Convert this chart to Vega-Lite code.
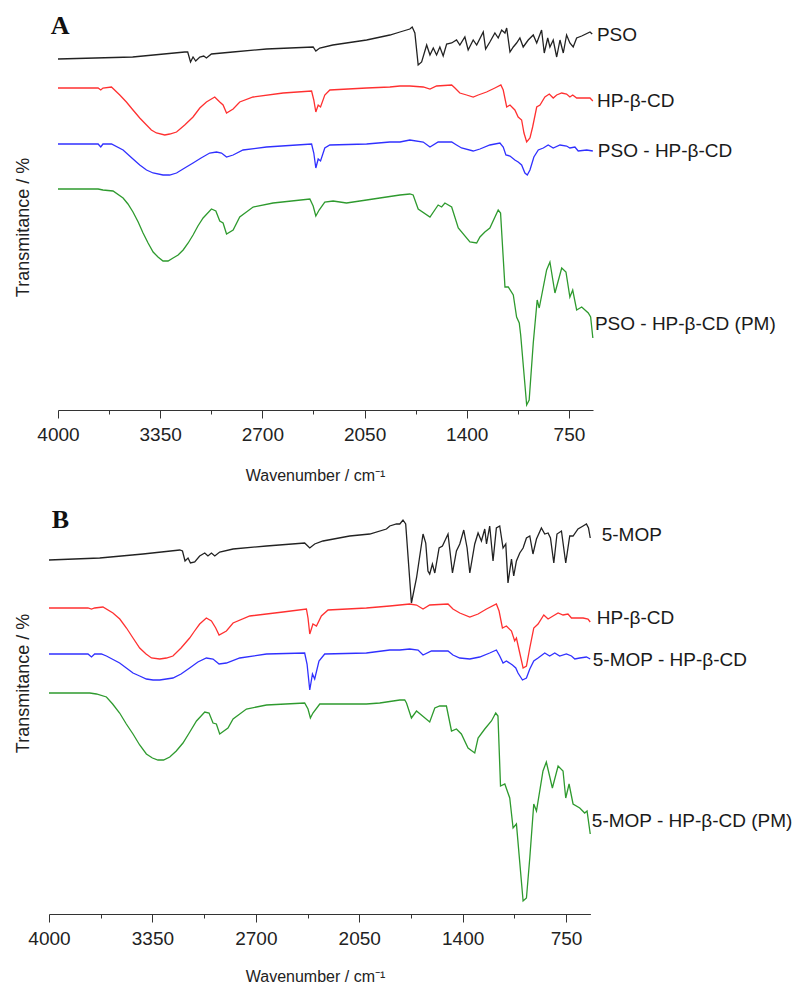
{
  "$schema": "https://vega.github.io/schema/vega-lite/v6.json",
  "padding": {"left": 14, "top": 13, "right": 0, "bottom": 0},
  "spacing": 23,
  "config": {
    "view": {"stroke": null},
    "font": "Liberation Sans",
    "axis": {"labelFont": "Liberation Sans", "titleFont": "Liberation Sans", "labelColor": "#222", "titleColor": "#222", "titleFontWeight": "normal", "grid": false}
  },
  "datasets": {
    "a": [
      {"s":"PSO","wn":4000,"t":351},{"s":"PSO","wn":3525,"t":353},{"s":"PSO","wn":3194,"t":358},{"s":"PSO","wn":3175,"t":358},{"s":"PSO","wn":3157,"t":348},{"s":"PSO","wn":3141,"t":353},{"s":"PSO","wn":3124,"t":349},{"s":"PSO","wn":3098,"t":353},{"s":"PSO","wn":3073,"t":354},{"s":"PSO","wn":3056,"t":352},{"s":"PSO","wn":3024,"t":356},{"s":"PSO","wn":2888,"t":358},{"s":"PSO","wn":2674,"t":361},{"s":"PSO","wn":2377,"t":363},{"s":"PSO","wn":2360,"t":359},{"s":"PSO","wn":2335,"t":362},{"s":"PSO","wn":2252,"t":365},{"s":"PSO","wn":2037,"t":370},{"s":"PSO","wn":1889,"t":375},{"s":"PSO","wn":1825,"t":378},{"s":"PSO","wn":1762,"t":381},{"s":"PSO","wn":1747,"t":383},{"s":"PSO","wn":1730,"t":377},{"s":"PSO","wn":1709,"t":345},{"s":"PSO","wn":1687,"t":348},{"s":"PSO","wn":1655,"t":365},{"s":"PSO","wn":1634,"t":355},{"s":"PSO","wn":1613,"t":362},{"s":"PSO","wn":1592,"t":355},{"s":"PSO","wn":1571,"t":363},{"s":"PSO","wn":1550,"t":354},{"s":"PSO","wn":1528,"t":366},{"s":"PSO","wn":1496,"t":367},{"s":"PSO","wn":1465,"t":370},{"s":"PSO","wn":1444,"t":365},{"s":"PSO","wn":1412,"t":373},{"s":"PSO","wn":1391,"t":360},{"s":"PSO","wn":1359,"t":370},{"s":"PSO","wn":1337,"t":365},{"s":"PSO","wn":1295,"t":378},{"s":"PSO","wn":1280,"t":361},{"s":"PSO","wn":1253,"t":368},{"s":"PSO","wn":1221,"t":377},{"s":"PSO","wn":1200,"t":372},{"s":"PSO","wn":1178,"t":380},{"s":"PSO","wn":1157,"t":377},{"s":"PSO","wn":1146,"t":382},{"s":"PSO","wn":1125,"t":358},{"s":"PSO","wn":1104,"t":363},{"s":"PSO","wn":1083,"t":367},{"s":"PSO","wn":1062,"t":372},{"s":"PSO","wn":1041,"t":363},{"s":"PSO","wn":1009,"t":370},{"s":"PSO","wn":977,"t":375},{"s":"PSO","wn":955,"t":367},{"s":"PSO","wn":924,"t":380},{"s":"PSO","wn":907,"t":357},{"s":"PSO","wn":885,"t":372},{"s":"PSO","wn":871,"t":363},{"s":"PSO","wn":850,"t":370},{"s":"PSO","wn":828,"t":353},{"s":"PSO","wn":807,"t":370},{"s":"PSO","wn":786,"t":357},{"s":"PSO","wn":765,"t":375},{"s":"PSO","wn":744,"t":367},{"s":"PSO","wn":723,"t":363},{"s":"PSO","wn":701,"t":372},{"s":"PSO","wn":669,"t":374},{"s":"PSO","wn":616,"t":378},{"s":"PSO","wn":602,"t":376},

      {"s":"HP-β-CD","wn":4000,"t":322},{"s":"HP-β-CD","wn":3745,"t":322},{"s":"HP-β-CD","wn":3728,"t":320},{"s":"HP-β-CD","wn":3714,"t":322},{"s":"HP-β-CD","wn":3660,"t":323},{"s":"HP-β-CD","wn":3607,"t":315},{"s":"HP-β-CD","wn":3565,"t":308},{"s":"HP-β-CD","wn":3523,"t":300},{"s":"HP-β-CD","wn":3480,"t":292},{"s":"HP-β-CD","wn":3437,"t":285},{"s":"HP-β-CD","wn":3406,"t":280},{"s":"HP-β-CD","wn":3374,"t":277},{"s":"HP-β-CD","wn":3321,"t":275},{"s":"HP-β-CD","wn":3289,"t":276},{"s":"HP-β-CD","wn":3246,"t":278},{"s":"HP-β-CD","wn":3194,"t":285},{"s":"HP-β-CD","wn":3141,"t":293},{"s":"HP-β-CD","wn":3098,"t":302},{"s":"HP-β-CD","wn":3056,"t":308},{"s":"HP-β-CD","wn":3003,"t":313},{"s":"HP-β-CD","wn":2971,"t":308},{"s":"HP-β-CD","wn":2950,"t":305},{"s":"HP-β-CD","wn":2928,"t":297},{"s":"HP-β-CD","wn":2886,"t":301},{"s":"HP-β-CD","wn":2844,"t":308},{"s":"HP-β-CD","wn":2759,"t":313},{"s":"HP-β-CD","wn":2568,"t":317},{"s":"HP-β-CD","wn":2387,"t":319},{"s":"HP-β-CD","wn":2373,"t":310},{"s":"HP-β-CD","wn":2360,"t":298},{"s":"HP-β-CD","wn":2345,"t":305},{"s":"HP-β-CD","wn":2330,"t":303},{"s":"HP-β-CD","wn":2303,"t":315},{"s":"HP-β-CD","wn":2271,"t":320},{"s":"HP-β-CD","wn":2037,"t":322},{"s":"HP-β-CD","wn":1889,"t":323},{"s":"HP-β-CD","wn":1825,"t":324},{"s":"HP-β-CD","wn":1762,"t":324},{"s":"HP-β-CD","wn":1677,"t":323},{"s":"HP-β-CD","wn":1634,"t":321},{"s":"HP-β-CD","wn":1592,"t":324},{"s":"HP-β-CD","wn":1496,"t":325},{"s":"HP-β-CD","wn":1475,"t":322},{"s":"HP-β-CD","wn":1444,"t":317},{"s":"HP-β-CD","wn":1401,"t":315},{"s":"HP-β-CD","wn":1359,"t":313},{"s":"HP-β-CD","wn":1327,"t":315},{"s":"HP-β-CD","wn":1274,"t":318},{"s":"HP-β-CD","wn":1221,"t":322},{"s":"HP-β-CD","wn":1183,"t":325},{"s":"HP-β-CD","wn":1168,"t":320},{"s":"HP-β-CD","wn":1146,"t":303},{"s":"HP-β-CD","wn":1125,"t":305},{"s":"HP-β-CD","wn":1094,"t":300},{"s":"HP-β-CD","wn":1073,"t":293},{"s":"HP-β-CD","wn":1051,"t":290},{"s":"HP-β-CD","wn":1036,"t":277},{"s":"HP-β-CD","wn":1019,"t":268},{"s":"HP-β-CD","wn":998,"t":272},{"s":"HP-β-CD","wn":981,"t":283},{"s":"HP-β-CD","wn":955,"t":303},{"s":"HP-β-CD","wn":934,"t":305},{"s":"HP-β-CD","wn":903,"t":313},{"s":"HP-β-CD","wn":875,"t":316},{"s":"HP-β-CD","wn":850,"t":312},{"s":"HP-β-CD","wn":828,"t":315},{"s":"HP-β-CD","wn":796,"t":317},{"s":"HP-β-CD","wn":765,"t":316},{"s":"HP-β-CD","wn":744,"t":313},{"s":"HP-β-CD","wn":726,"t":315},{"s":"HP-β-CD","wn":701,"t":312},{"s":"HP-β-CD","wn":659,"t":312},{"s":"HP-β-CD","wn":616,"t":312},{"s":"HP-β-CD","wn":598,"t":309},

      {"s":"PSO - HP-β-CD","wn":4000,"t":266},{"s":"PSO - HP-β-CD","wn":3745,"t":266},{"s":"PSO - HP-β-CD","wn":3728,"t":263},{"s":"PSO - HP-β-CD","wn":3714,"t":266},{"s":"PSO - HP-β-CD","wn":3660,"t":266},{"s":"PSO - HP-β-CD","wn":3586,"t":260},{"s":"PSO - HP-β-CD","wn":3530,"t":252},{"s":"PSO - HP-β-CD","wn":3480,"t":245},{"s":"PSO - HP-β-CD","wn":3437,"t":240},{"s":"PSO - HP-β-CD","wn":3395,"t":237},{"s":"PSO - HP-β-CD","wn":3332,"t":235},{"s":"PSO - HP-β-CD","wn":3290,"t":235},{"s":"PSO - HP-β-CD","wn":3246,"t":237},{"s":"PSO - HP-β-CD","wn":3194,"t":242},{"s":"PSO - HP-β-CD","wn":3141,"t":247},{"s":"PSO - HP-β-CD","wn":3090,"t":252},{"s":"PSO - HP-β-CD","wn":3035,"t":257},{"s":"PSO - HP-β-CD","wn":2992,"t":258},{"s":"PSO - HP-β-CD","wn":2960,"t":257},{"s":"PSO - HP-β-CD","wn":2928,"t":253},{"s":"PSO - HP-β-CD","wn":2886,"t":255},{"s":"PSO - HP-β-CD","wn":2823,"t":260},{"s":"PSO - HP-β-CD","wn":2674,"t":263},{"s":"PSO - HP-β-CD","wn":2387,"t":266},{"s":"PSO - HP-β-CD","wn":2373,"t":257},{"s":"PSO - HP-β-CD","wn":2360,"t":242},{"s":"PSO - HP-β-CD","wn":2345,"t":251},{"s":"PSO - HP-β-CD","wn":2330,"t":249},{"s":"PSO - HP-β-CD","wn":2303,"t":262},{"s":"PSO - HP-β-CD","wn":2271,"t":265},{"s":"PSO - HP-β-CD","wn":2037,"t":266},{"s":"PSO - HP-β-CD","wn":1889,"t":268},{"s":"PSO - HP-β-CD","wn":1825,"t":268},{"s":"PSO - HP-β-CD","wn":1762,"t":270},{"s":"PSO - HP-β-CD","wn":1677,"t":268},{"s":"PSO - HP-β-CD","wn":1634,"t":263},{"s":"PSO - HP-β-CD","wn":1582,"t":268},{"s":"PSO - HP-β-CD","wn":1496,"t":268},{"s":"PSO - HP-β-CD","wn":1465,"t":265},{"s":"PSO - HP-β-CD","wn":1433,"t":262},{"s":"PSO - HP-β-CD","wn":1359,"t":259},{"s":"PSO - HP-β-CD","wn":1316,"t":261},{"s":"PSO - HP-β-CD","wn":1253,"t":265},{"s":"PSO - HP-β-CD","wn":1189,"t":267},{"s":"PSO - HP-β-CD","wn":1168,"t":263},{"s":"PSO - HP-β-CD","wn":1151,"t":255},{"s":"PSO - HP-β-CD","wn":1125,"t":254},{"s":"PSO - HP-β-CD","wn":1094,"t":250},{"s":"PSO - HP-β-CD","wn":1073,"t":248},{"s":"PSO - HP-β-CD","wn":1051,"t":245},{"s":"PSO - HP-β-CD","wn":1030,"t":237},{"s":"PSO - HP-β-CD","wn":1015,"t":235},{"s":"PSO - HP-β-CD","wn":998,"t":240},{"s":"PSO - HP-β-CD","wn":973,"t":253},{"s":"PSO - HP-β-CD","wn":945,"t":260},{"s":"PSO - HP-β-CD","wn":913,"t":262},{"s":"PSO - HP-β-CD","wn":882,"t":265},{"s":"PSO - HP-β-CD","wn":850,"t":262},{"s":"PSO - HP-β-CD","wn":807,"t":265},{"s":"PSO - HP-β-CD","wn":765,"t":264},{"s":"PSO - HP-β-CD","wn":744,"t":262},{"s":"PSO - HP-β-CD","wn":712,"t":263},{"s":"PSO - HP-β-CD","wn":691,"t":259},{"s":"PSO - HP-β-CD","wn":637,"t":260},{"s":"PSO - HP-β-CD","wn":598,"t":259},

      {"s":"PSO - HP-β-CD (PM)","wn":4000,"t":221},{"s":"PSO - HP-β-CD (PM)","wn":3745,"t":221},{"s":"PSO - HP-β-CD (PM)","wn":3714,"t":220},{"s":"PSO - HP-β-CD (PM)","wn":3650,"t":219},{"s":"PSO - HP-β-CD (PM)","wn":3586,"t":212},{"s":"PSO - HP-β-CD (PM)","wn":3555,"t":206},{"s":"PSO - HP-β-CD (PM)","wn":3523,"t":198},{"s":"PSO - HP-β-CD (PM)","wn":3490,"t":188},{"s":"PSO - HP-β-CD (PM)","wn":3459,"t":177},{"s":"PSO - HP-β-CD (PM)","wn":3427,"t":167},{"s":"PSO - HP-β-CD (PM)","wn":3395,"t":158},{"s":"PSO - HP-β-CD (PM)","wn":3364,"t":153},{"s":"PSO - HP-β-CD (PM)","wn":3332,"t":149},{"s":"PSO - HP-β-CD (PM)","wn":3300,"t":149},{"s":"PSO - HP-β-CD (PM)","wn":3268,"t":152},{"s":"PSO - HP-β-CD (PM)","wn":3236,"t":155},{"s":"PSO - HP-β-CD (PM)","wn":3204,"t":160},{"s":"PSO - HP-β-CD (PM)","wn":3172,"t":167},{"s":"PSO - HP-β-CD (PM)","wn":3141,"t":175},{"s":"PSO - HP-β-CD (PM)","wn":3110,"t":184},{"s":"PSO - HP-β-CD (PM)","wn":3077,"t":192},{"s":"PSO - HP-β-CD (PM)","wn":3024,"t":201},{"s":"PSO - HP-β-CD (PM)","wn":2996,"t":199},{"s":"PSO - HP-β-CD (PM)","wn":2971,"t":189},{"s":"PSO - HP-β-CD (PM)","wn":2950,"t":187},{"s":"PSO - HP-β-CD (PM)","wn":2928,"t":176},{"s":"PSO - HP-β-CD (PM)","wn":2886,"t":180},{"s":"PSO - HP-β-CD (PM)","wn":2844,"t":193},{"s":"PSO - HP-β-CD (PM)","wn":2759,"t":203},{"s":"PSO - HP-β-CD (PM)","wn":2632,"t":207},{"s":"PSO - HP-β-CD (PM)","wn":2398,"t":211},{"s":"PSO - HP-β-CD (PM)","wn":2377,"t":204},{"s":"PSO - HP-β-CD (PM)","wn":2360,"t":194},{"s":"PSO - HP-β-CD (PM)","wn":2339,"t":200},{"s":"PSO - HP-β-CD (PM)","wn":2303,"t":208},{"s":"PSO - HP-β-CD (PM)","wn":2250,"t":209},{"s":"PSO - HP-β-CD (PM)","wn":2165,"t":207},{"s":"PSO - HP-β-CD (PM)","wn":2037,"t":210},{"s":"PSO - HP-β-CD (PM)","wn":1953,"t":212},{"s":"PSO - HP-β-CD (PM)","wn":1825,"t":215},{"s":"PSO - HP-β-CD (PM)","wn":1762,"t":216},{"s":"PSO - HP-β-CD (PM)","wn":1741,"t":215},{"s":"PSO - HP-β-CD (PM)","wn":1709,"t":201},{"s":"PSO - HP-β-CD (PM)","wn":1634,"t":193},{"s":"PSO - HP-β-CD (PM)","wn":1582,"t":205},{"s":"PSO - HP-β-CD (PM)","wn":1560,"t":203},{"s":"PSO - HP-β-CD (PM)","wn":1539,"t":207},{"s":"PSO - HP-β-CD (PM)","wn":1496,"t":203},{"s":"PSO - HP-β-CD (PM)","wn":1454,"t":182},{"s":"PSO - HP-β-CD (PM)","wn":1380,"t":168},{"s":"PSO - HP-β-CD (PM)","wn":1337,"t":167},{"s":"PSO - HP-β-CD (PM)","wn":1316,"t":173},{"s":"PSO - HP-β-CD (PM)","wn":1285,"t":178},{"s":"PSO - HP-β-CD (PM)","wn":1253,"t":182},{"s":"PSO - HP-β-CD (PM)","wn":1200,"t":200},{"s":"PSO - HP-β-CD (PM)","wn":1185,"t":197},{"s":"PSO - HP-β-CD (PM)","wn":1157,"t":123},{"s":"PSO - HP-β-CD (PM)","wn":1136,"t":123},{"s":"PSO - HP-β-CD (PM)","wn":1104,"t":115},{"s":"PSO - HP-β-CD (PM)","wn":1083,"t":93},{"s":"PSO - HP-β-CD (PM)","wn":1066,"t":87},{"s":"PSO - HP-β-CD (PM)","wn":1057,"t":75},{"s":"PSO - HP-β-CD (PM)","wn":1019,"t":5},{"s":"PSO - HP-β-CD (PM)","wn":1003,"t":10},{"s":"PSO - HP-β-CD (PM)","wn":977,"t":67},{"s":"PSO - HP-β-CD (PM)","wn":952,"t":110},{"s":"PSO - HP-β-CD (PM)","wn":939,"t":102},{"s":"PSO - HP-β-CD (PM)","wn":892,"t":140},{"s":"PSO - HP-β-CD (PM)","wn":871,"t":148},{"s":"PSO - HP-β-CD (PM)","wn":839,"t":117},{"s":"PSO - HP-β-CD (PM)","wn":796,"t":142},{"s":"PSO - HP-β-CD (PM)","wn":769,"t":138},{"s":"PSO - HP-β-CD (PM)","wn":744,"t":113},{"s":"PSO - HP-β-CD (PM)","wn":726,"t":120},{"s":"PSO - HP-β-CD (PM)","wn":701,"t":100},{"s":"PSO - HP-β-CD (PM)","wn":669,"t":103},{"s":"PSO - HP-β-CD (PM)","wn":627,"t":97},{"s":"PSO - HP-β-CD (PM)","wn":612,"t":93},{"s":"PSO - HP-β-CD (PM)","wn":598,"t":72}
    ],
    "b": [
      {"s":"5-MOP","wn":4000,"t":354},{"s":"5-MOP","wn":3681,"t":356},{"s":"5-MOP","wn":3409,"t":360},{"s":"5-MOP","wn":3178,"t":364},{"s":"5-MOP","wn":3161,"t":363},{"s":"5-MOP","wn":3145,"t":353},{"s":"5-MOP","wn":3126,"t":356},{"s":"5-MOP","wn":3111,"t":351},{"s":"5-MOP","wn":3084,"t":352},{"s":"5-MOP","wn":3053,"t":358},{"s":"5-MOP","wn":3021,"t":361},{"s":"5-MOP","wn":3001,"t":358},{"s":"5-MOP","wn":2979,"t":361},{"s":"5-MOP","wn":2958,"t":358},{"s":"5-MOP","wn":2927,"t":362},{"s":"5-MOP","wn":2843,"t":365},{"s":"5-MOP","wn":2633,"t":368},{"s":"5-MOP","wn":2393,"t":371},{"s":"5-MOP","wn":2361,"t":366},{"s":"5-MOP","wn":2330,"t":370},{"s":"5-MOP","wn":2278,"t":373},{"s":"5-MOP","wn":2110,"t":378},{"s":"5-MOP","wn":1984,"t":380},{"s":"5-MOP","wn":1879,"t":385},{"s":"5-MOP","wn":1858,"t":388},{"s":"5-MOP","wn":1816,"t":390},{"s":"5-MOP","wn":1795,"t":390},{"s":"5-MOP","wn":1775,"t":394},{"s":"5-MOP","wn":1758,"t":390},{"s":"5-MOP","wn":1722,"t":311},{"s":"5-MOP","wn":1690,"t":336},{"s":"5-MOP","wn":1649,"t":380},{"s":"5-MOP","wn":1632,"t":371},{"s":"5-MOP","wn":1618,"t":343},{"s":"5-MOP","wn":1607,"t":340},{"s":"5-MOP","wn":1590,"t":350},{"s":"5-MOP","wn":1575,"t":341},{"s":"5-MOP","wn":1548,"t":366},{"s":"5-MOP","wn":1527,"t":368},{"s":"5-MOP","wn":1492,"t":380},{"s":"5-MOP","wn":1464,"t":341},{"s":"5-MOP","wn":1439,"t":363},{"s":"5-MOP","wn":1418,"t":370},{"s":"5-MOP","wn":1393,"t":384},{"s":"5-MOP","wn":1372,"t":366},{"s":"5-MOP","wn":1355,"t":341},{"s":"5-MOP","wn":1324,"t":370},{"s":"5-MOP","wn":1303,"t":381},{"s":"5-MOP","wn":1282,"t":373},{"s":"5-MOP","wn":1261,"t":385},{"s":"5-MOP","wn":1250,"t":370},{"s":"5-MOP","wn":1230,"t":388},{"s":"5-MOP","wn":1209,"t":353},{"s":"5-MOP","wn":1188,"t":386},{"s":"5-MOP","wn":1167,"t":388},{"s":"5-MOP","wn":1146,"t":366},{"s":"5-MOP","wn":1129,"t":370},{"s":"5-MOP","wn":1115,"t":331},{"s":"5-MOP","wn":1093,"t":355},{"s":"5-MOP","wn":1079,"t":338},{"s":"5-MOP","wn":1062,"t":353},{"s":"5-MOP","wn":1041,"t":361},{"s":"5-MOP","wn":1020,"t":366},{"s":"5-MOP","wn":999,"t":376},{"s":"5-MOP","wn":978,"t":378},{"s":"5-MOP","wn":958,"t":360},{"s":"5-MOP","wn":936,"t":375},{"s":"5-MOP","wn":905,"t":386},{"s":"5-MOP","wn":884,"t":380},{"s":"5-MOP","wn":863,"t":381},{"s":"5-MOP","wn":848,"t":376},{"s":"5-MOP","wn":827,"t":351},{"s":"5-MOP","wn":807,"t":380},{"s":"5-MOP","wn":779,"t":383},{"s":"5-MOP","wn":752,"t":351},{"s":"5-MOP","wn":727,"t":378},{"s":"5-MOP","wn":706,"t":378},{"s":"5-MOP","wn":675,"t":385},{"s":"5-MOP","wn":643,"t":388},{"s":"5-MOP","wn":622,"t":390},{"s":"5-MOP","wn":609,"t":386},{"s":"5-MOP","wn":598,"t":376},

      {"s":"HP-β-CD","wn":4000,"t":306},{"s":"HP-β-CD","wn":3755,"t":306},{"s":"HP-β-CD","wn":3733,"t":305},{"s":"HP-β-CD","wn":3713,"t":306},{"s":"HP-β-CD","wn":3661,"t":307},{"s":"HP-β-CD","wn":3598,"t":301},{"s":"HP-β-CD","wn":3555,"t":295},{"s":"HP-β-CD","wn":3513,"t":286},{"s":"HP-β-CD","wn":3472,"t":276},{"s":"HP-β-CD","wn":3430,"t":266},{"s":"HP-β-CD","wn":3390,"t":260},{"s":"HP-β-CD","wn":3356,"t":256},{"s":"HP-β-CD","wn":3304,"t":255},{"s":"HP-β-CD","wn":3262,"t":256},{"s":"HP-β-CD","wn":3221,"t":258},{"s":"HP-β-CD","wn":3170,"t":266},{"s":"HP-β-CD","wn":3116,"t":276},{"s":"HP-β-CD","wn":3085,"t":283},{"s":"HP-β-CD","wn":3053,"t":290},{"s":"HP-β-CD","wn":3011,"t":296},{"s":"HP-β-CD","wn":2979,"t":293},{"s":"HP-β-CD","wn":2952,"t":286},{"s":"HP-β-CD","wn":2931,"t":279},{"s":"HP-β-CD","wn":2885,"t":283},{"s":"HP-β-CD","wn":2843,"t":291},{"s":"HP-β-CD","wn":2738,"t":298},{"s":"HP-β-CD","wn":2529,"t":302},{"s":"HP-β-CD","wn":2382,"t":305},{"s":"HP-β-CD","wn":2372,"t":296},{"s":"HP-β-CD","wn":2361,"t":280},{"s":"HP-β-CD","wn":2341,"t":290},{"s":"HP-β-CD","wn":2319,"t":288},{"s":"HP-β-CD","wn":2288,"t":298},{"s":"HP-β-CD","wn":2246,"t":304},{"s":"HP-β-CD","wn":2005,"t":306},{"s":"HP-β-CD","wn":1858,"t":308},{"s":"HP-β-CD","wn":1795,"t":309},{"s":"HP-β-CD","wn":1733,"t":310},{"s":"HP-β-CD","wn":1690,"t":309},{"s":"HP-β-CD","wn":1649,"t":305},{"s":"HP-β-CD","wn":1607,"t":309},{"s":"HP-β-CD","wn":1492,"t":310},{"s":"HP-β-CD","wn":1461,"t":305},{"s":"HP-β-CD","wn":1418,"t":301},{"s":"HP-β-CD","wn":1355,"t":297},{"s":"HP-β-CD","wn":1303,"t":300},{"s":"HP-β-CD","wn":1250,"t":305},{"s":"HP-β-CD","wn":1188,"t":310},{"s":"HP-β-CD","wn":1171,"t":303},{"s":"HP-β-CD","wn":1150,"t":286},{"s":"HP-β-CD","wn":1125,"t":288},{"s":"HP-β-CD","wn":1093,"t":283},{"s":"HP-β-CD","wn":1073,"t":273},{"s":"HP-β-CD","wn":1062,"t":276},{"s":"HP-β-CD","wn":1041,"t":261},{"s":"HP-β-CD","wn":1020,"t":246},{"s":"HP-β-CD","wn":999,"t":248},{"s":"HP-β-CD","wn":978,"t":266},{"s":"HP-β-CD","wn":953,"t":286},{"s":"HP-β-CD","wn":926,"t":290},{"s":"HP-β-CD","wn":890,"t":299},{"s":"HP-β-CD","wn":863,"t":295},{"s":"HP-β-CD","wn":832,"t":298},{"s":"HP-β-CD","wn":800,"t":301},{"s":"HP-β-CD","wn":769,"t":299},{"s":"HP-β-CD","wn":738,"t":300},{"s":"HP-β-CD","wn":716,"t":296},{"s":"HP-β-CD","wn":685,"t":296},{"s":"HP-β-CD","wn":643,"t":296},{"s":"HP-β-CD","wn":612,"t":295},{"s":"HP-β-CD","wn":598,"t":292},

      {"s":"5-MOP - HP-β-CD","wn":4000,"t":260},{"s":"5-MOP - HP-β-CD","wn":3755,"t":260},{"s":"5-MOP - HP-β-CD","wn":3733,"t":257},{"s":"5-MOP - HP-β-CD","wn":3713,"t":260},{"s":"5-MOP - HP-β-CD","wn":3671,"t":260},{"s":"5-MOP - HP-β-CD","wn":3639,"t":258},{"s":"5-MOP - HP-β-CD","wn":3556,"t":251},{"s":"5-MOP - HP-β-CD","wn":3472,"t":241},{"s":"5-MOP - HP-β-CD","wn":3430,"t":238},{"s":"5-MOP - HP-β-CD","wn":3388,"t":235},{"s":"5-MOP - HP-β-CD","wn":3346,"t":234},{"s":"5-MOP - HP-β-CD","wn":3304,"t":234},{"s":"5-MOP - HP-β-CD","wn":3221,"t":236},{"s":"5-MOP - HP-β-CD","wn":3170,"t":240},{"s":"5-MOP - HP-β-CD","wn":3116,"t":246},{"s":"5-MOP - HP-β-CD","wn":3064,"t":252},{"s":"5-MOP - HP-β-CD","wn":3011,"t":256},{"s":"5-MOP - HP-β-CD","wn":2969,"t":255},{"s":"5-MOP - HP-β-CD","wn":2931,"t":250},{"s":"5-MOP - HP-β-CD","wn":2885,"t":251},{"s":"5-MOP - HP-β-CD","wn":2801,"t":256},{"s":"5-MOP - HP-β-CD","wn":2633,"t":260},{"s":"5-MOP - HP-β-CD","wn":2393,"t":261},{"s":"5-MOP - HP-β-CD","wn":2378,"t":250},{"s":"5-MOP - HP-β-CD","wn":2361,"t":224},{"s":"5-MOP - HP-β-CD","wn":2344,"t":240},{"s":"5-MOP - HP-β-CD","wn":2330,"t":235},{"s":"5-MOP - HP-β-CD","wn":2303,"t":253},{"s":"5-MOP - HP-β-CD","wn":2267,"t":260},{"s":"5-MOP - HP-β-CD","wn":2005,"t":261},{"s":"5-MOP - HP-β-CD","wn":1858,"t":264},{"s":"5-MOP - HP-β-CD","wn":1795,"t":264},{"s":"5-MOP - HP-β-CD","wn":1733,"t":265},{"s":"5-MOP - HP-β-CD","wn":1680,"t":264},{"s":"5-MOP - HP-β-CD","wn":1649,"t":259},{"s":"5-MOP - HP-β-CD","wn":1596,"t":263},{"s":"5-MOP - HP-β-CD","wn":1492,"t":263},{"s":"5-MOP - HP-β-CD","wn":1461,"t":259},{"s":"5-MOP - HP-β-CD","wn":1418,"t":256},{"s":"5-MOP - HP-β-CD","wn":1355,"t":255},{"s":"5-MOP - HP-β-CD","wn":1293,"t":257},{"s":"5-MOP - HP-β-CD","wn":1230,"t":261},{"s":"5-MOP - HP-β-CD","wn":1188,"t":264},{"s":"5-MOP - HP-β-CD","wn":1167,"t":258},{"s":"5-MOP - HP-β-CD","wn":1146,"t":251},{"s":"5-MOP - HP-β-CD","wn":1125,"t":253},{"s":"5-MOP - HP-β-CD","wn":1087,"t":249},{"s":"5-MOP - HP-β-CD","wn":1066,"t":246},{"s":"5-MOP - HP-β-CD","wn":1052,"t":241},{"s":"5-MOP - HP-β-CD","wn":1024,"t":234},{"s":"5-MOP - HP-β-CD","wn":999,"t":236},{"s":"5-MOP - HP-β-CD","wn":978,"t":245},{"s":"5-MOP - HP-β-CD","wn":953,"t":253},{"s":"5-MOP - HP-β-CD","wn":926,"t":256},{"s":"5-MOP - HP-β-CD","wn":884,"t":261},{"s":"5-MOP - HP-β-CD","wn":853,"t":258},{"s":"5-MOP - HP-β-CD","wn":821,"t":261},{"s":"5-MOP - HP-β-CD","wn":790,"t":258},{"s":"5-MOP - HP-β-CD","wn":748,"t":260},{"s":"5-MOP - HP-β-CD","wn":716,"t":258},{"s":"5-MOP - HP-β-CD","wn":695,"t":255},{"s":"5-MOP - HP-β-CD","wn":664,"t":256},{"s":"5-MOP - HP-β-CD","wn":622,"t":257},{"s":"5-MOP - HP-β-CD","wn":598,"t":255},

      {"s":"5-MOP - HP-β-CD (PM)","wn":4000,"t":221},{"s":"5-MOP - HP-β-CD (PM)","wn":3744,"t":221},{"s":"5-MOP - HP-β-CD (PM)","wn":3702,"t":220},{"s":"5-MOP - HP-β-CD (PM)","wn":3639,"t":217},{"s":"5-MOP - HP-β-CD (PM)","wn":3600,"t":210},{"s":"5-MOP - HP-β-CD (PM)","wn":3556,"t":201},{"s":"5-MOP - HP-β-CD (PM)","wn":3514,"t":190},{"s":"5-MOP - HP-β-CD (PM)","wn":3472,"t":180},{"s":"5-MOP - HP-β-CD (PM)","wn":3430,"t":169},{"s":"5-MOP - HP-β-CD (PM)","wn":3388,"t":160},{"s":"5-MOP - HP-β-CD (PM)","wn":3350,"t":156},{"s":"5-MOP - HP-β-CD (PM)","wn":3315,"t":154},{"s":"5-MOP - HP-β-CD (PM)","wn":3280,"t":154},{"s":"5-MOP - HP-β-CD (PM)","wn":3241,"t":157},{"s":"5-MOP - HP-β-CD (PM)","wn":3200,"t":163},{"s":"5-MOP - HP-β-CD (PM)","wn":3158,"t":171},{"s":"5-MOP - HP-β-CD (PM)","wn":3115,"t":182},{"s":"5-MOP - HP-β-CD (PM)","wn":3073,"t":193},{"s":"5-MOP - HP-β-CD (PM)","wn":3021,"t":202},{"s":"5-MOP - HP-β-CD (PM)","wn":2994,"t":201},{"s":"5-MOP - HP-β-CD (PM)","wn":2969,"t":191},{"s":"5-MOP - HP-β-CD (PM)","wn":2948,"t":190},{"s":"5-MOP - HP-β-CD (PM)","wn":2927,"t":180},{"s":"5-MOP - HP-β-CD (PM)","wn":2875,"t":186},{"s":"5-MOP - HP-β-CD (PM)","wn":2843,"t":195},{"s":"5-MOP - HP-β-CD (PM)","wn":2759,"t":205},{"s":"5-MOP - HP-β-CD (PM)","wn":2633,"t":209},{"s":"5-MOP - HP-β-CD (PM)","wn":2393,"t":211},{"s":"5-MOP - HP-β-CD (PM)","wn":2372,"t":205},{"s":"5-MOP - HP-β-CD (PM)","wn":2357,"t":196},{"s":"5-MOP - HP-β-CD (PM)","wn":2341,"t":201},{"s":"5-MOP - HP-β-CD (PM)","wn":2298,"t":210},{"s":"5-MOP - HP-β-CD (PM)","wn":2215,"t":210},{"s":"5-MOP - HP-β-CD (PM)","wn":2005,"t":210},{"s":"5-MOP - HP-β-CD (PM)","wn":1921,"t":211},{"s":"5-MOP - HP-β-CD (PM)","wn":1795,"t":214},{"s":"5-MOP - HP-β-CD (PM)","wn":1764,"t":214},{"s":"5-MOP - HP-β-CD (PM)","wn":1753,"t":211},{"s":"5-MOP - HP-β-CD (PM)","wn":1722,"t":196},{"s":"5-MOP - HP-β-CD (PM)","wn":1690,"t":203},{"s":"5-MOP - HP-β-CD (PM)","wn":1607,"t":192},{"s":"5-MOP - HP-β-CD (PM)","wn":1575,"t":206},{"s":"5-MOP - HP-β-CD (PM)","wn":1544,"t":208},{"s":"5-MOP - HP-β-CD (PM)","wn":1502,"t":208},{"s":"5-MOP - HP-β-CD (PM)","wn":1470,"t":183},{"s":"5-MOP - HP-β-CD (PM)","wn":1439,"t":185},{"s":"5-MOP - HP-β-CD (PM)","wn":1408,"t":180},{"s":"5-MOP - HP-β-CD (PM)","wn":1366,"t":166},{"s":"5-MOP - HP-β-CD (PM)","wn":1324,"t":161},{"s":"5-MOP - HP-β-CD (PM)","wn":1303,"t":176},{"s":"5-MOP - HP-β-CD (PM)","wn":1261,"t":185},{"s":"5-MOP - HP-β-CD (PM)","wn":1219,"t":193},{"s":"5-MOP - HP-β-CD (PM)","wn":1192,"t":201},{"s":"5-MOP - HP-β-CD (PM)","wn":1178,"t":198},{"s":"5-MOP - HP-β-CD (PM)","wn":1162,"t":128},{"s":"5-MOP - HP-β-CD (PM)","wn":1135,"t":130},{"s":"5-MOP - HP-β-CD (PM)","wn":1104,"t":116},{"s":"5-MOP - HP-β-CD (PM)","wn":1083,"t":86},{"s":"5-MOP - HP-β-CD (PM)","wn":1062,"t":90},{"s":"5-MOP - HP-β-CD (PM)","wn":1020,"t":13},{"s":"5-MOP - HP-β-CD (PM)","wn":999,"t":16},{"s":"5-MOP - HP-β-CD (PM)","wn":978,"t":56},{"s":"5-MOP - HP-β-CD (PM)","wn":953,"t":110},{"s":"5-MOP - HP-β-CD (PM)","wn":936,"t":103},{"s":"5-MOP - HP-β-CD (PM)","wn":895,"t":143},{"s":"5-MOP - HP-β-CD (PM)","wn":874,"t":152},{"s":"5-MOP - HP-β-CD (PM)","wn":836,"t":126},{"s":"5-MOP - HP-β-CD (PM)","wn":800,"t":148},{"s":"5-MOP - HP-β-CD (PM)","wn":769,"t":143},{"s":"5-MOP - HP-β-CD (PM)","wn":752,"t":116},{"s":"5-MOP - HP-β-CD (PM)","wn":731,"t":130},{"s":"5-MOP - HP-β-CD (PM)","wn":706,"t":110},{"s":"5-MOP - HP-β-CD (PM)","wn":664,"t":106},{"s":"5-MOP - HP-β-CD (PM)","wn":633,"t":101},{"s":"5-MOP - HP-β-CD (PM)","wn":618,"t":103},{"s":"5-MOP - HP-β-CD (PM)","wn":598,"t":80}
    ],
    "la": [
      {"s":"PSO","wn":572,"t":375},{"s":"HP-β-CD","wn":572,"t":309},{"s":"PSO - HP-β-CD","wn":566,"t":259},{"s":"PSO - HP-β-CD (PM)","wn":585,"t":86}
    ],
    "lb": [
      {"s":"5-MOP","wn":526,"t":379},{"s":"HP-β-CD","wn":557,"t":296},{"s":"5-MOP - HP-β-CD","wn":582,"t":254},{"s":"5-MOP - HP-β-CD (PM)","wn":588,"t":93}
    ]
  },
  "vconcat": [
    {
      "width": 535,
      "height": 395,
      "layer": [
        {
          "data": {"name": "a"},
          "mark": {"type": "line", "strokeWidth": 1.3, "interpolate": "linear"},
          "encoding": {
            "x": {"field": "wn", "type": "quantitative",
              "scale": {"domain": [4000, 597], "nice": false, "zero": false},
              "axis": {"values": [4000,3675,3350,3025,2700,2375,2050,1725,1400,1075,750], "format": "d",
                "labelExpr": "(4000 - datum.value) % 650 == 0 ? datum.label : ''",
                "tickSize": {"condition": {"test": "(4000 - datum.value) % 650 == 0", "value": 8}, "value": 4},
                "labelPadding": 7, "labelFontSize": 19, "labelFlush": false, "labelOverlap": false,
                "domainColor": "#333", "tickColor": "#333",
                "title": "Wavenumber / cm⁻¹", "titleFontSize": 16, "titlePadding": 23, "titleX": 257, "titleAlign": "center"}},
            "y": {"field": "t", "type": "quantitative",
              "scale": {"domain": [0, 395], "nice": false, "zero": false},
              "axis": {"labels": false, "ticks": false, "domain": false, "title": "Transmitance / %", "titleFontSize": 18, "titlePadding": 26, "titleY": 212, "titleAlign": "center"}},
            "color": {"field": "s", "type": "nominal", "legend": null,
              "scale": {"domain": ["PSO","HP-β-CD","PSO - HP-β-CD","PSO - HP-β-CD (PM)","5-MOP","5-MOP - HP-β-CD","5-MOP - HP-β-CD (PM)"],
                        "range": ["#222222","#ff3030","#3030ff","#2e9a2e","#222222","#3030ff","#2e9a2e"]}}
          }
        },
        {
          "data": {"name": "la"},
          "mark": {"type": "text", "align": "left", "baseline": "middle", "fontSize": 19, "font": "Liberation Sans", "color": "#1a1a1a"},
          "encoding": {
            "x": {"field": "wn", "type": "quantitative"},
            "y": {"field": "t", "type": "quantitative"},
            "text": {"field": "s"}
          }
        },
        {
          "data": {"values": [{"p": "A"}]},
          "mark": {"type": "text", "align": "left", "baseline": "alphabetic", "fontSize": 26, "font": "Liberation Serif", "fontWeight": "bold", "color": "#111"},
          "encoding": {
            "x": {"datum": 4046, "type": "quantitative"},
            "y": {"datum": 376, "type": "quantitative"},
            "text": {"field": "p"}
          }
        }
      ]
    },
    {
      "width": 532,
      "height": 408,
      "layer": [
        {
          "data": {"name": "b"},
          "mark": {"type": "line", "strokeWidth": 1.3, "interpolate": "linear"},
          "encoding": {
            "x": {"field": "wn", "type": "quantitative",
              "scale": {"domain": [4000, 597], "range": [-9, 532.4], "nice": false, "zero": false},
              "axis": {"values": [4000,3675,3350,3025,2700,2375,2050,1725,1400,1075,750], "format": "d",
                "labelExpr": "(4000 - datum.value) % 650 == 0 ? datum.label : ''",
                "tickSize": {"condition": {"test": "(4000 - datum.value) % 650 == 0", "value": 8}, "value": 4},
                "labelPadding": 7, "labelFontSize": 19, "labelFlush": false, "labelOverlap": false,
                "domainColor": "#333", "tickColor": "#333",
                "title": "Wavenumber / cm⁻¹", "titleFontSize": 16, "titlePadding": 20, "titleX": 257, "titleAlign": "center"}},
            "y": {"field": "t", "type": "quantitative",
              "scale": {"domain": [0, 408], "nice": false, "zero": false},
              "axis": {"labels": false, "ticks": false, "domain": false, "title": "Transmitance / %", "titleFontSize": 18, "titlePadding": 26, "titleY": 177, "titleAlign": "center"}},
            "color": {"field": "s", "type": "nominal", "legend": null,
              "scale": {"domain": ["PSO","HP-β-CD","PSO - HP-β-CD","PSO - HP-β-CD (PM)","5-MOP","5-MOP - HP-β-CD","5-MOP - HP-β-CD (PM)"],
                        "range": ["#222222","#ff3030","#3030ff","#2e9a2e","#222222","#3030ff","#2e9a2e"]}}
          }
        },
        {
          "data": {"name": "lb"},
          "mark": {"type": "text", "align": "left", "baseline": "middle", "fontSize": 19, "font": "Liberation Sans", "color": "#1a1a1a"},
          "encoding": {
            "x": {"field": "wn", "type": "quantitative"},
            "y": {"field": "t", "type": "quantitative"},
            "text": {"field": "s"}
          }
        },
        {
          "data": {"values": [{"p": "B"}]},
          "mark": {"type": "text", "align": "left", "baseline": "alphabetic", "fontSize": 26, "font": "Liberation Serif", "fontWeight": "bold", "color": "#111"},
          "encoding": {
            "x": {"datum": 3983, "type": "quantitative"},
            "y": {"datum": 386, "type": "quantitative"},
            "text": {"field": "p"}
          }
        }
      ]
    }
  ]
}
